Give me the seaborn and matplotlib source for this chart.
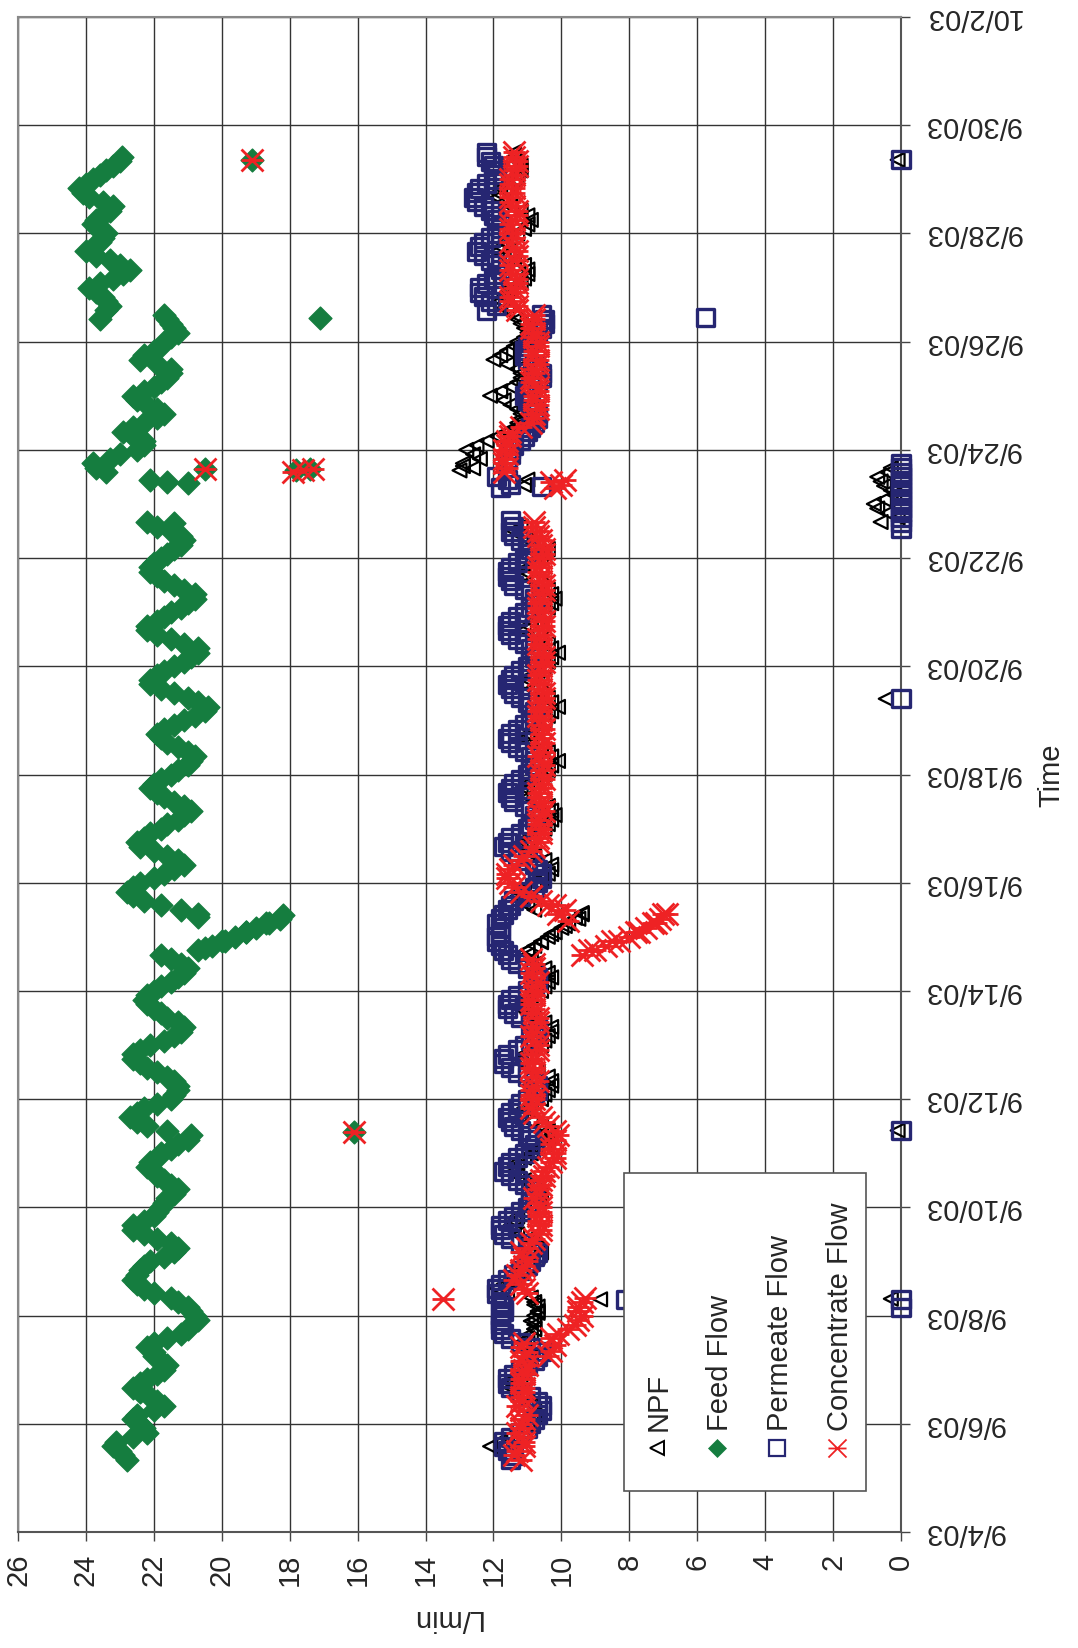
import numpy as np
import pandas as pd
import matplotlib
matplotlib.use("Agg")
import matplotlib.pyplot as plt
import matplotlib.dates as mdates
import seaborn as sns
from matplotlib.path import Path
from matplotlib.lines import Line2D
from matplotlib.patches import Rectangle

nan = np.nan

# ---------------- data ----------------
# 2-hourly readings (00,02,...,22 h), one row per calendar day from 9/5/03 to 9/29/03
npf_rows = [
    [nan, nan, nan, nan, nan, nan, nan, 12.1, 11.8, 11.6, 11.3, 11.1],
    [11.0, 10.9, 10.8, 10.8, 10.9, 11.0, 11.2, 11.4, 11.5, 11.5, 11.4, 11.2],
    [11.1, 11.0, 10.9, 10.9, 11.0, 11.1, 11.2, 11.0, 10.9, 10.8, 10.8, 10.8],
    [10.8, 10.7, 10.7, 10.8, 10.9, 11.6, 11.9, 11.7, 11.5, 11.3, 11.2, 11.0],
    [10.9, 10.7, 10.6, 10.7, 10.8, 11.0, 11.3, 11.4, 11.5, 11.4, 11.3, 11.1],
    [10.9, 10.7, 10.6, 10.6, 10.7, 10.9, 11.1, 11.3, 11.4, 11.4, 11.3, 11.1],
    [10.9, 10.7, 10.5, 10.4, 10.3, 10.4, 10.6, 10.9, 11.2, 11.2, 11.1, 10.9],
    [10.6, 10.5, 10.4, 10.3, 10.3, 10.4, 10.7, 11.0, 11.2, 11.2, 11.1, 10.9],
    [10.6, 10.5, 10.4, 10.3, 10.3, 10.5, 10.8, 11.0, 11.2, 11.2, 11.1, 10.9],
    [10.6, 10.5, 10.4, 10.3, 10.4, 10.5, 10.8, 10.9, 11.0, 11.0, 10.8, 10.6],
    [10.4, 10.2, 10.0, 9.8, 9.5, 9.4, 10.8, 11.0, 11.2, 11.3, 11.3, 11.1],
    [10.8, 10.6, 10.4, 10.3, 10.3, 10.5, 10.8, 11.0, 11.2, 11.1, 11.0, 10.8],
    [10.5, 10.4, 10.3, 10.2, 10.3, 10.4, 10.8, 11.0, 11.2, 11.1, 11.0, 10.8],
    [10.5, 10.4, 10.3, 10.1, 10.3, 10.4, 10.6, 10.9, 11.1, 11.0, 10.9, 10.7],
    [10.5, 10.4, 10.3, 10.1, 10.3, 10.4, 10.6, 10.9, 11.1, 11.0, 10.9, 10.7],
    [10.5, 10.4, 10.3, 10.1, 10.3, 10.4, 10.6, 10.9, 11.1, 11.0, 10.9, 10.7],
    [10.5, 10.4, 10.3, 10.2, 10.3, 10.4, 10.6, 10.9, 11.1, 11.1, 11.0, 10.8],
    [10.6, 10.5, 10.4, 10.7, 11.0, 11.2, 11.4, 11.2, 0.6, 0.1, 0.4, 0.7],
    [0.8, 0.5, 0.2, 0.3, 0.5, 0.6, 0.7, 0.4, 0.3, 12.9, 12.4, 12.6],
    [12.8, 12.5, 12.2, 11.9, 11.6, 11.4, 11.3, 11.2, 11.2, 11.3, 11.5, 11.7],
    [12.1, 11.8, 11.5, 11.3, 11.2, 11.2, 11.3, 11.6, 12.0, 11.8, 11.6, 11.4],
    [11.3, 11.1, 11.0, 11.1, 11.2, 11.3, 11.4, 11.6, 11.8, 11.8, 11.7, 11.6],
    [11.5, 11.2, 11.1, 11.0, 11.0, 11.1, 11.4, 11.7, 11.9, 11.8, 11.7, 11.5],
    [11.3, 11.1, 11.0, 10.9, 11.0, 11.2, 11.5, 11.7, 11.9, 11.9, 11.8, 11.6],
    [11.4, 11.3, 11.2, 11.2, 11.3, 11.4, 11.4, nan, nan, nan, nan, nan],
]
feed_rows = [
    [nan, nan, nan, nan, 22.8, 22.9, 23.0, 23.2, 23.1, 22.6, 22.2, 22.3],
    [22.4, 22.6, 22.5, 22.0, 21.7, 21.9, 22.1, 22.4, 22.6, 22.4, 22.2, 21.9],
    [21.7, 21.6, 21.8, 22.0, 22.0, 22.2, 22.0, 21.6, 21.2, 21.0, 20.9, 20.7],
    [20.8, 20.9, 21.0, 21.3, 21.5, 22.0, 22.3, 22.5, 22.6, 22.5, 22.4, 22.3],
    [22.1, 21.7, 21.4, 21.3, 21.5, 21.9, 22.3, 22.6, 22.6, 22.3, 22.0, 21.9],
    [21.8, 21.7, 21.6, 21.4, 21.3, 21.5, 21.7, 21.9, 22.0, 22.2, 22.1, 21.9],
    [21.8, 21.5, 21.3, 21.0, 20.9, 21.6, 22.2, 22.5, 22.7, 22.5, 22.3, 21.9],
    [21.5, 21.4, 21.3, 21.3, 21.4, 21.6, 21.9, 22.2, 22.4, 22.6, 22.6, 22.4],
    [22.1, 21.7, 21.4, 21.2, 21.1, 21.3, 21.6, 21.8, 22.0, 22.2, 22.3, 22.2],
    [22.0, 21.8, 21.5, 21.3, 21.1, 21.0, 21.2, 21.5, 21.8, 20.7, 20.3, 20.0],
    [19.6, 19.3, 19.0, 18.6, 18.3, 20.7, 21.2, 21.8, 22.3, 22.6, 22.8, 22.6],
    [22.4, 22.0, 21.7, 21.4, 21.1, 21.3, 21.6, 22.0, 22.4, 22.5, 22.3, 22.1],
    [21.8, 21.6, 21.3, 21.1, 20.9, 21.1, 21.4, 21.7, 21.9, 22.1, 22.0, 21.8],
    [21.5, 21.3, 21.0, 20.9, 20.8, 21.0, 21.3, 21.6, 21.8, 21.9, 21.7, 21.4],
    [21.1, 20.8, 20.5, 20.4, 20.7, 21.0, 21.4, 21.8, 22.1, 22.1, 21.9, 21.7],
    [21.4, 21.1, 20.9, 20.7, 20.7, 21.1, 21.5, 21.9, 22.2, 22.2, 21.9, 21.7],
    [21.5, 21.2, 21.0, 20.8, 20.8, 21.1, 21.4, 21.7, 21.9, 22.1, 22.1, 22.0],
    [21.8, 21.6, 21.4, 21.2, 21.1, 21.2, 21.5, 21.9, 22.2, nan, nan, nan],
    [nan, nan, nan, nan, nan, nan, nan, 23.4, 23.7, 23.8, 23.3, 23.0],
    [22.5, 22.3, 22.3, 22.6, 22.9, 22.6, 22.3, 21.9, 21.7, 21.9, 22.2, 22.5],
    [22.6, 22.3, 22.0, 21.8, 21.6, 21.5, 21.5, 21.9, 22.4, 22.3, 22.0, 21.8],
    [21.7, 21.5, 21.3, 21.4, 21.5, 21.6, 21.7, 23.4, 23.3, 23.4, 23.5, 23.7],
    [23.9, 23.6, 23.2, 22.9, 22.7, 23.0, 23.3, 23.7, 24.0, 23.8, 23.6, 23.5],
    [23.4, 23.6, 23.8, 23.7, 23.5, 23.3, 23.2, 23.5, 23.9, 24.1, 24.2, 24.0],
    [23.8, 23.6, 23.4, 23.2, 23.0, 22.95, nan, nan, nan, nan, nan, nan],
]
perm_rows = [
    [nan, nan, nan, nan, 11.5, 11.4, 11.6, 11.7, 11.7, 11.5, 11.2, 11.0],
    [10.9, 10.8, 10.7, 10.6, 10.6, 10.7, 10.9, 11.2, 11.5, 11.6, 11.6, 11.4],
    [11.2, 11.0, 10.8, 10.7, 10.6, 10.9, 11.2, 11.5, 11.7, 11.8, 11.8, 11.8],
    [11.8, 11.7, 11.7, 11.8, 11.8, 11.9, 11.9, 11.8, 11.6, 11.4, 11.2, 11.0],
    [10.9, 10.8, 10.7, 10.9, 11.2, 11.5, 11.7, 11.8, 11.8, 11.6, 11.4, 11.2],
    [11.0, 10.9, 10.8, 10.8, 10.9, 11.1, 11.3, 11.5, 11.7, 11.6, 11.5, 11.3],
    [11.1, 10.9, 10.8, 10.9, 11.0, 11.2, 11.4, 11.5, 11.6, 11.5, 11.3, 11.2],
    [11.0, 10.8, 10.7, 10.7, 10.8, 11.0, 11.3, 11.5, 11.7, 11.7, 11.6, 11.3],
    [11.1, 10.9, 10.8, 10.7, 10.7, 10.9, 11.2, 11.4, 11.6, 11.6, 11.5, 11.3],
    [11.0, 10.8, 10.7, 10.7, 10.8, 11.0, 11.3, 11.5, 11.6, 11.7, 11.8, 11.9],
    [11.9, 11.8, 11.8, 11.9, 11.8, 11.7, 11.6, 11.5, 11.4, 11.2, 11.0, 10.8],
    [10.7, 10.6, 10.6, 10.7, 10.8, 11.0, 11.3, 11.5, 11.7, 11.6, 11.5, 11.2],
    [11.0, 10.9, 10.8, 10.8, 10.9, 11.1, 11.4, 11.5, 11.6, 11.5, 11.4, 11.2],
    [11.0, 10.9, 10.8, 10.8, 10.9, 11.1, 11.3, 11.5, 11.6, 11.5, 11.3, 11.1],
    [10.9, 10.8, 10.8, 10.9, 11.0, 11.2, 11.4, 11.5, 11.6, 11.5, 11.4, 11.2],
    [11.0, 10.9, 10.8, 10.8, 10.9, 11.1, 11.3, 11.5, 11.6, 11.6, 11.5, 11.3],
    [11.1, 10.9, 10.8, 10.8, 10.9, 11.1, 11.4, 11.5, 11.6, 11.6, 11.5, 11.3],
    [11.1, 11.0, 10.9, 11.0, 11.2, 11.4, 11.5, 11.4, 0.0, 0.0, 0.0, 0.0],
    [0.0, 0.0, 0.0, 0.0, 0.0, 0.0, 0.0, 0.0, 0.0, 0.0, 11.6, 11.5],
    [11.5, 11.4, 11.2, 11.1, 11.0, 10.9, 10.8, 10.7, 10.7, 10.8, 10.9, 11.0],
    [11.1, 11.0, 10.9, 10.7, 10.6, 10.6, 10.7, 10.8, 11.0, 11.1, 11.1, 11.0],
    [10.9, 10.8, 10.7, 10.6, 10.5, 10.5, 10.6, 12.2, 11.9, 12.1, 12.3, 12.4],
    [12.4, 12.2, 12.0, 11.9, 11.8, 11.9, 12.1, 12.3, 12.5, 12.4, 12.3, 12.1],
    [11.9, 11.8, 11.8, 11.9, 12.0, 12.1, 12.3, 12.5, 12.6, 12.5, 12.4, 12.2],
    [12.0, 11.9, 11.9, 12.0, 12.1, 12.2, 12.2, nan, nan, nan, nan, nan],
]
conc_rows = [
    [nan, nan, nan, nan, 11.2, 11.4, 11.3, 11.1, 11.1, 11.2, 11.3, 11.2],
    [11.2, 11.1, 11.0, 11.2, 11.3, 11.2, 11.2, 11.1, 11.1, 11.2, 11.2, 11.1],
    [11.1, 11.0, 11.2, 11.1, 11.0, 11.2, 11.1, 10.3, 10.1, 9.8, 9.6, 9.5],
    [9.4, 9.5, 9.5, 9.4, 9.3, 11.0, 11.1, 11.2, 11.4, 11.3, 11.2, 11.1],
    [11.0, 11.1, 11.2, 11.0, 10.9, 10.8, 10.7, 10.6, 10.6, 10.7, 10.7, 10.6],
    [10.6, 10.7, 10.8, 10.7, 10.7, 10.6, 10.6, 10.5, 10.5, 10.4, 10.3, 10.2],
    [10.2, 10.3, 10.3, 10.2, 10.1, 10.2, 10.4, 10.5, 10.6, 10.8, 10.9, 10.8],
    [10.8, 10.9, 10.9, 10.8, 10.7, 10.8, 10.8, 10.9, 10.9, 10.8, 10.8, 10.7],
    [10.7, 10.8, 10.9, 10.8, 10.8, 10.7, 10.7, 10.8, 10.8, 10.9, 10.9, 10.8],
    [10.8, 10.8, 10.7, 10.8, 10.9, 10.8, 10.8, 10.9, 9.4, 9.0, 8.7, 8.3],
    [8.0, 7.7, 7.5, 7.3, 7.1, 7.0, 9.9, 10.2, 10.6, 10.9, 11.2, 11.4],
    [11.5, 11.6, 11.6, 11.5, 11.4, 11.2, 11.1, 10.9, 10.8, 10.7, 10.7, 10.6],
    [10.6, 10.7, 10.7, 10.6, 10.5, 10.6, 10.6, 10.7, 10.7, 10.6, 10.6, 10.5],
    [10.6, 10.6, 10.5, 10.6, 10.7, 10.6, 10.6, 10.5, 10.6, 10.6, 10.5, 10.6],
    [10.6, 10.7, 10.7, 10.6, 10.6, 10.5, 10.5, 10.6, 10.6, 10.7, 10.7, 10.6],
    [10.6, 10.5, 10.5, 10.6, 10.6, 10.7, 10.7, 10.6, 10.6, 10.5, 10.5, 10.6],
    [10.6, 10.7, 10.7, 10.6, 10.6, 10.5, 10.5, 10.6, 10.6, 10.7, 10.7, 10.6],
    [10.6, 10.5, 10.5, 10.6, 10.6, 10.7, 10.7, 10.8, 10.8, nan, nan, nan],
    [nan, nan, nan, nan, nan, nan, nan, 11.7, 11.6, 11.7, 11.7, 11.6],
    [11.7, 11.6, 11.6, 11.5, 11.5, 11.2, 10.9, 10.8, 10.8, 10.7, 10.7, 10.8],
    [10.8, 10.7, 10.7, 10.9, 10.9, 10.8, 10.8, 10.7, 10.7, 10.8, 10.8, 10.7],
    [10.7, 10.8, 10.8, 10.9, 10.9, 10.8, 10.8, 11.3, 11.3, 11.5, 11.5, 11.4],
    [11.4, 11.3, 11.3, 11.4, 11.5, 11.5, 11.4, 11.3, 11.3, 11.4, 11.5, 11.4],
    [11.4, 11.5, 11.5, 11.4, 11.3, 11.3, 11.4, 11.5, 11.5, 11.4, 11.4, 11.5],
    [11.5, 11.4, 11.4, 11.3, 11.3, 11.4, 11.4, nan, nan, nan, nan, nan],
]

# individual extra readings: (days after 9/4/03 00:00, L/min)
npf_extra = [(3.75, 10.8), (3.90, 10.9), (4.05, 10.7), (4.20, 10.8),
             (4.30, 8.86), (4.31, 0.3), (7.42, 0.1),
             (10.76, 11.0), (10.90, 10.6), (11.05, 10.3), (11.20, 9.9), (11.35, 9.6), (11.44, 9.4),
             (15.40, 0.45), (19.35, 11.1), (19.45, 11.0),
             (19.62, 13.0), (19.66, 12.6), (19.70, 12.9), (25.36, 0.1)]
feed_extra = [(10.80, 20.5), (10.92, 19.9), (11.08, 19.3), (11.25, 18.7), (11.40, 18.2),
              (11.37, 20.7), (18.65, 21.4), (19.38, 21.0), (19.40, 21.6),
              (19.45, 22.1), (19.62, 17.8), (19.64, 17.4), (19.65, 20.5), (7.39, 16.1),
              (22.44, 17.1), (22.42, 23.6), (25.36, 19.1)]
perm_extra = [(4.15, 0.0), (4.30, 0.0), (4.29, 8.1), (7.42, 0.0), (15.40, 0.0), (18.55, 0.0),
              (18.70, 11.5), (19.30, 11.8), (19.36, 11.5), (19.45, 11.6), (19.50, 11.9),
              (19.33, 10.6), (22.45, 5.75), (25.36, 0.0)]
conc_extra = [(3.25, 10.4), (3.35, 10.3), (3.45, 10.2),
              (10.75, 9.2), (10.92, 8.5), (11.08, 7.8), (11.25, 7.2), (11.42, 6.9),
              (11.30, 9.8), (11.42, 10.1), (11.58, 10.4), (11.75, 10.9),
              (4.30, 13.5), (7.39, 16.1), (19.30, 10.2), (19.35, 10.0), (19.40, 10.3),
              (19.45, 9.9), (19.60, 17.9), (19.62, 17.6), (19.64, 17.3), (19.65, 20.5),
              (25.36, 19.1)]

series_names = ["NPF", "Feed Flow", "Permeate Flow", "Concentrate Flow"]
flow_ticks = list(range(0, 27, 2))

start = pd.Timestamp("2003-09-05")
origin = pd.Timestamp("2003-09-04")
end = pd.Timestamp("2003-10-02")


def frame(rows, extra):
    vals = np.array(rows, dtype=float).ravel()
    t = pd.date_range(start, periods=len(vals), freq="2h")
    df = pd.DataFrame({"time": t, "flow": vals})
    ex = pd.DataFrame({"time": [origin + pd.Timedelta(days=d) for d, _ in extra],
                       "flow": [v for _, v in extra]})
    return pd.concat([df, ex], ignore_index=True).dropna()


npf = frame(npf_rows, npf_extra)
feed = frame(feed_rows, feed_extra)
perm = frame(perm_rows, perm_extra)
conc = frame(conc_rows, conc_extra)

# ---------------- style ----------------
sns.set_style("white")
plt.rcParams["font.family"] = ["Liberation Sans", "DejaVu Sans"]
FS = 21

W, H = 1078, 1648
fig = plt.figure(figsize=(W / 100, H / 100), dpi=100)
L, R, T, B = 18, 901, 17, 1532
ax = fig.add_axes([L / W, 1 - B / H, (R - L) / W, (B - T) / H])

navy = "#262672"
green = "#157D3F"
red = "#EE2224"

star = Path([(-1, -1), (1, 1), (-1, 1), (1, -1), (-1, 0), (1, 0)],
            [Path.MOVETO, Path.LINETO] * 3)

sns.scatterplot(data=npf, x="flow", y="time", ax=ax, marker="<", s=100,
                color="black", facecolor="none", edgecolor="black", linewidth=1.6,
                legend=False, clip_on=False, zorder=3)
sns.scatterplot(data=feed, x="flow", y="time", ax=ax, marker="D", s=135,
                color=green, edgecolor=green, linewidth=1.0,
                legend=False, clip_on=False, zorder=4)
sns.scatterplot(data=perm, x="flow", y="time", ax=ax, marker="s", s=150,
                color=navy, facecolor="none", edgecolor=navy, linewidth=2.4,
                legend=False, clip_on=False, zorder=5)
sns.scatterplot(data=conc, x="flow", y="time", ax=ax, marker=star, s=250,
                color=red, facecolor=red, edgecolor=red, linewidth=2.0,
                legend=False, clip_on=False, zorder=6)

# axes
ax.set_xlim(26, 0)
ax.set_xticks(flow_ticks)
ax.set_xticklabels([str(v) for v in flow_ticks])
ax.set_ylim(mdates.date2num(origin), mdates.date2num(end))
date_ticks = pd.date_range(origin, end, freq="2D")
ax.set_yticks(mdates.date2num(date_ticks))
ax.set_yticklabels([f"{d.month}/{d.day}/{d:%y}" for d in date_ticks])
ax.yaxis.tick_right()

ax.grid(True, color="#333333", linewidth=1.0)
ax.set_axisbelow(True)

for side in ["top", "left"]:
    ax.spines[side].set_color("#888888")
    ax.spines[side].set_linewidth(1.5)
for side in ["right", "bottom"]:
    ax.spines[side].set_color("#555555")
    ax.spines[side].set_linewidth(1.5)

ax.tick_params(axis="x", direction="out", length=6.5, width=1.0, color="#444444",
               pad=9, labelsize=FS, labelrotation=90, top=False, bottom=True)
ax.tick_params(axis="y", direction="out", length=6.5, width=1.0, color="#444444",
               pad=10, labelsize=FS, left=False, right=True, labelleft=False, labelright=True)
for lab in ax.get_yticklabels():
    lab.set_rotation(180)
    lab.set_va("center")
    lab.set_ha("left")

ax.set_xlabel("L/min", fontsize=FS, rotation=180)
ax.xaxis.set_label_coords((446 - L) / (R - L), (B - 1618) / (B - T))
ax.xaxis.label.set_va("center")
ax.set_ylabel("Time", fontsize=FS, rotation=90)
ax.yaxis.set_label_position("right")
ax.yaxis.set_label_coords((1051 - L) / (R - L), (B - 775) / (B - T))
ax.yaxis.label.set_va("center")
ax.yaxis.label.set_ha("center")

# ---------------- legend (rotated, drawn manually) ----------------
def fx(px):
    return px / W


def fy(py):
    return 1 - py / H


box = Rectangle((fx(624), fy(1491)), fx(866) - fx(624), fy(1173) - fy(1491),
                transform=fig.transFigure, facecolor="white", edgecolor="#555555",
                linewidth=1.2, zorder=10)
fig.add_artist(box)

leg_marker_y = 1448
leg_text_y = 1431
entries = [
    (657, 667, dict(marker="<", markersize=9.5, markerfacecolor="none",
                    markeredgecolor="black", markeredgewidth=1.4)),
    (717, 728, dict(marker="D", markersize=9.5, markerfacecolor=green,
                    markeredgecolor=green, markeredgewidth=0.5)),
    (777, 788, dict(marker="s", markersize=11, markerfacecolor="none",
                    markeredgecolor=navy, markeredgewidth=1.6)),
    (837, 848, dict(marker=star, markersize=13, markerfacecolor=red,
                    markeredgecolor=red, markeredgewidth=1.3)),
]
for (mx, tx, mk), name in zip(entries, series_names):
    fig.add_artist(Line2D([fx(mx)], [fy(leg_marker_y)], transform=fig.transFigure,
                          linestyle="none", zorder=11, **mk))
    fig.text(fx(tx), fy(leg_text_y), name, rotation=90, rotation_mode="anchor",
             ha="left", va="baseline", fontsize=FS, zorder=11)

fig.savefig("out.png", dpi=100)
